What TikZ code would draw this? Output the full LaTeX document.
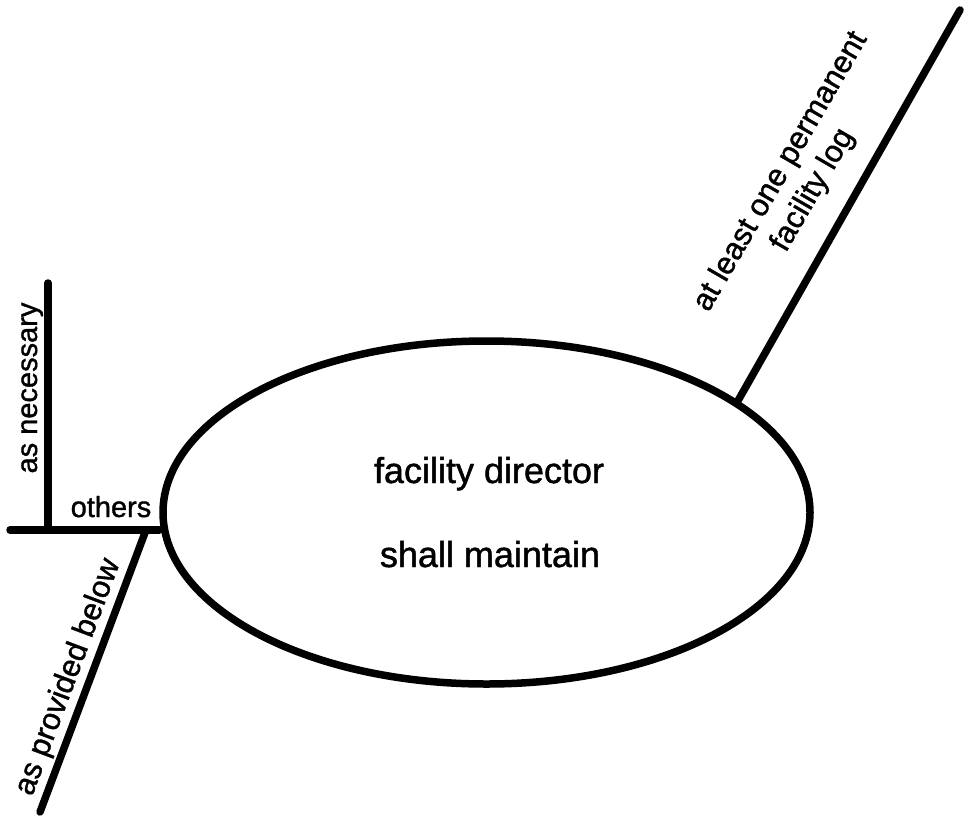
\documentclass[tikz,border=0pt]{standalone}
\usepackage{fontspec}
\setmainfont{Liberation Sans}[FakeBold=1.2]
\usetikzlibrary{shapes.geometric}
\begin{document}
\begin{tikzpicture}[x=1pt,y=-1pt,
  stroke/.style={line width=7.5pt, line cap=round, black},
  bubble/.style={draw=black, line width=7.5pt, ellipse, minimum width=647pt, minimum height=343pt, inner sep=0pt},
  maintext/.style={font=\fontsize{36}{43}\selectfont, anchor=base, inner sep=0pt},
  sidetext/.style={font=\fontsize{29}{35}\selectfont, anchor=base, inner sep=0pt},
  toptext/.style={font=\fontsize{31}{37}\selectfont, inner sep=0pt, align=center}]
\useasboundingbox (0,0) rectangle (965,824);
% main ellipse
\node[bubble] (E) at (486.5,512.5) {};
\node[maintext] (t1) at (489,483) {facility director};
\node[maintext] (t2) at (490,567) {shall maintain};
% left structure
\coordinate (hl) at (10,530);
\coordinate (vt) at (48,283);
\coordinate (vb) at (48,530);
\coordinate (j2) at (146,530);
\coordinate (ll) at (40,812);
\draw[stroke] (hl) -- (hl -| E.west);
\draw[stroke] (vt) -- (vb);
\draw[stroke] (j2) -- (ll);
\node[sidetext, rotate=90] (nec) at (37,388) {as necessary};
\node[sidetext] (oth) at (111,517) {others};
\node[sidetext, font=\fontsize{31}{37}\selectfont, rotate=69.4] (prov) at (76,680) {as provided below};
% upper right
\coordinate (ur) at (960,10);
\draw[stroke] (E.24) -- (ur);
\node[toptext, rotate=59.9] (log) at (797,181) {at least one permanent\\facility log};
\end{tikzpicture}
\end{document}
